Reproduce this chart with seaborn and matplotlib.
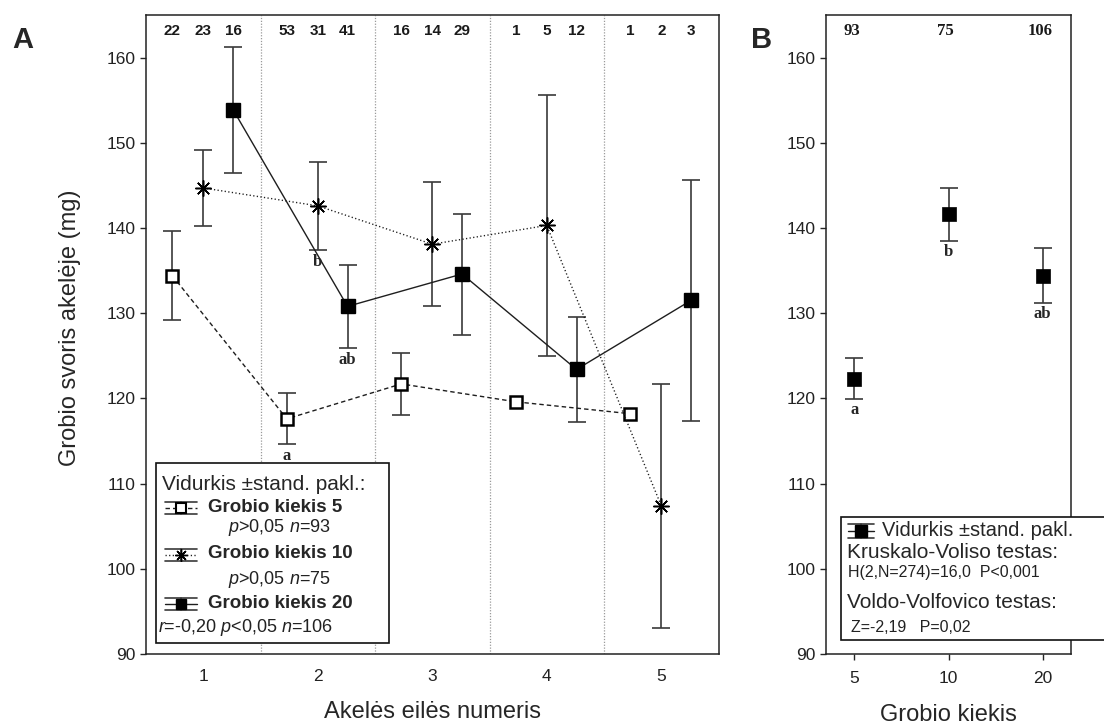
import numpy as np
import pandas as pd
import matplotlib
matplotlib.use("Agg")
import matplotlib.pyplot as plt
import seaborn as sns
from matplotlib.lines import Line2D
from matplotlib.patches import Rectangle
from matplotlib.transforms import Affine2D, blended_transform_factory

# ---------------- data ----------------
# Panel A: egg position in the clutch, three prey-supply groups
positions = [1, 2, 3, 4, 5]
prey_levels = ["5", "10", "20"]

mean_prey5 = [134.4, 117.6, 121.7, 119.6, 118.2]
sd_prey5 = [5.2, 3.0, 3.6, 0.0, 0.0]
n_prey5 = [22, 53, 16, 1, 1]

mean_prey10 = [144.7, 142.6, 138.1, 140.3, 107.4]
sd_prey10 = [4.5, 5.2, 7.3, 15.3, 14.3]
n_prey10 = [23, 31, 14, 5, 2]

mean_prey20 = [153.9, 130.8, 134.6, 123.4, 131.5]
sd_prey20 = [7.4, 4.9, 7.1, 6.2, 14.1]
n_prey20 = [16, 41, 29, 12, 3]

# significance letters in panel A (level, position, letter)
letters_a = [("5", 2, "a"), ("10", 2, "b"), ("20", 2, "ab")]

# Panel B: pooled by prey supply
b_levels = ["5", "10", "20"]
b_mean = [122.3, 141.6, 134.4]
b_sd = [2.4, 3.1, 3.2]
b_n = [93, 75, 106]
b_letters = ["a", "b", "ab"]

y_ticks = [90, 100, 110, 120, 130, 140, 150, 160]

# ---------------- style ----------------
sns.set_style("ticks")
plt.rcParams["font.family"] = ["Liberation Sans", "DejaVu Sans"]
plt.rcParams["mathtext.fontset"] = "custom"
plt.rcParams["mathtext.rm"] = "Liberation Sans"
plt.rcParams["mathtext.it"] = "Liberation Sans:italic"
plt.rcParams["axes.edgecolor"] = "#222222"
plt.rcParams["axes.linewidth"] = 1.1

offset = {"5": -0.27, "10": 0.0, "20": 0.26}
line_ls = {"5": (0, (3.2, 2.2)), "10": (0, (0.9, 1.7)), "20": "-"}
marker = {"5": "s", "10": (8, 2, 0), "20": "s"}
mfc = {"5": "white", "10": "black", "20": "black"}
msize = {"5": 8.8, "10": 11.5, "20": 10.0}
mew = {"5": 1.8, "10": 1.1, "20": 1.0}

rows = []
for lvl, means, sds, ns in zip(prey_levels,
                              [mean_prey5, mean_prey10, mean_prey20],
                              [sd_prey5, sd_prey10, sd_prey20],
                              [n_prey5, n_prey10, n_prey20]):
    for p, m, s, n in zip(positions, means, sds, ns):
        rows.append(dict(level=lvl, position=p, mean=m, sd=s, n=n))
dfA = pd.DataFrame(rows)
dfA["x"] = dfA["position"] + dfA["level"].map(offset)

dfB = pd.DataFrame(dict(level=b_levels, mean=b_mean, sd=b_sd, n=b_n,
                        letter=b_letters))
dfB["x"] = np.arange(len(dfB))

# ---------------- figure ----------------
W, H = 1104, 727
fig = plt.figure(figsize=(W / 100, H / 100), dpi=100)
pix = Affine2D().scale(1 / W, -1 / H).translate(0, 1) + fig.transFigure

top, bottom = 15, 654
axA = fig.add_axes([146 / W, 1 - bottom / H, (718.5 - 146) / W, (bottom - top) / H])
axB = fig.add_axes([826 / W, 1 - bottom / H, (1071 - 826) / W, (bottom - top) / H])

line_col = "#1e1e1e"
err_col = "#3a3a3a"

# ---- panel A ----
for p in [1.5, 2.5, 3.5, 4.5]:
    axA.axvline(p, color="#9a9a9a", lw=0.9, ls=(0, (1, 1.3)), zorder=1)

for lvl in prey_levels:
    sub = dfA[dfA["level"] == lvl]
    bars = sub[sub["sd"] > 0]
    axA.errorbar(bars["x"], bars["mean"], yerr=bars["sd"], fmt="none",
                 ecolor=err_col, elinewidth=1.2, capsize=6.2, capthick=1.2,
                 zorder=2)
    sns.lineplot(data=sub, x="x", y="mean", ax=axA, estimator=None, sort=False,
                 color=line_col, lw=1.0, linestyle=line_ls[lvl],
                 marker=marker[lvl], ms=msize[lvl], mfc=mfc[lvl], mec="black",
                 mew=mew[lvl], zorder=3)

# sample sizes along the top
top_tr = blended_transform_factory(axA.transData, axA.transAxes)
for _, r in dfA.iterrows():
    axA.text(r["x"], 0.975, f"{int(r['n'])}", transform=top_tr, ha="center",
             va="center", fontsize=11, fontweight="bold", color="#1a1a1a")

for lvl, pos, let in letters_a:
    r = dfA[(dfA["level"] == lvl) & (dfA["position"] == pos)].iloc[0]
    axA.annotate(let, (r["x"], r["mean"] - r["sd"]), xytext=(0, -8.5),
                 textcoords="offset points", ha="center", va="center",
                 fontsize=12, fontweight="bold", family="Liberation Serif")

axA.set_xlim(0.5, 5.5)
axA.set_ylim(90, 165)
axA.set_xticks(positions)
axA.set_yticks(y_ticks)
axA.tick_params(axis="x", length=0, pad=11, labelsize=12.5, labelcolor="#222")
axA.tick_params(axis="y", length=4.5, width=1, pad=3, labelsize=12.5,
                labelcolor="#222")
axA.set_xlabel("Akelės eilės numeris", fontsize=17, va="center")
axA.xaxis.set_label_coords(0.5, (bottom - 712) / (bottom - top))
axA.set_ylabel("Grobio svoris akelėje (mg)", fontsize=17, va="center")
axA.yaxis.set_label_coords((70 - 146) / 572.5, 0.51)

# ---- panel B ----
axB.errorbar(dfB["x"], dfB["mean"], yerr=dfB["sd"], fmt="none", ecolor=err_col,
             elinewidth=1.2, capsize=6.2, capthick=1.2, zorder=2)
sns.scatterplot(data=dfB, x="x", y="mean", ax=axB, marker="s", s=95,
                color="black", edgecolor="black", linewidth=0.5, zorder=3)
top_trB = blended_transform_factory(axB.transData, axB.transAxes)
for _, r in dfB.iterrows():
    axB.text(r["x"] - 0.03, 0.975, f"{int(r['n'])}", transform=top_trB,
             ha="center", va="center", fontsize=12, fontweight="bold",
             family="Liberation Serif", color="#1a1a1a")
    axB.annotate(r["letter"], (r["x"], r["mean"] - r["sd"]), xytext=(0, -8),
                 textcoords="offset points", ha="center", va="center",
                 fontsize=12, fontweight="bold", family="Liberation Serif")

axB.set_xlim(-0.3, 2.3)
axB.set_ylim(90, 165)
axB.set_xticks(dfB["x"])
axB.set_xticklabels(b_levels)
axB.set_yticks(y_ticks)
axB.tick_params(axis="x", length=4, width=1, pad=8, labelsize=12.5,
                labelcolor="#222")
axB.tick_params(axis="y", length=4.5, width=1, pad=3, labelsize=12.5,
                labelcolor="#222")
axB.set_xlabel("Grobio kiekis", fontsize=17, va="center")
axB.xaxis.set_label_coords(0.5, (bottom - 715) / (bottom - top))
axB.set_ylabel("")

# panel letters
fig.text(23, 40, "A", transform=pix, fontsize=21, fontweight="bold",
         ha="center", va="center")
fig.text(762, 40, "B", transform=pix, fontsize=21, fontweight="bold",
         ha="center", va="center")


# ---------------- legends ----------------
def key(cx, cy, half, cap, ls, mk, face, ms, mw):
    fig.add_artist(Line2D([cx - half, cx + half], [cy, cy], transform=pix,
                          ls=ls, color=line_col, lw=1.0, zorder=6))
    for dy in (-cap, cap):
        fig.add_artist(Line2D([cx - half, cx + half], [cy + dy] * 2,
                              transform=pix, color=err_col, lw=1.2, zorder=6))
    fig.add_artist(Line2D([cx, cx], [cy - cap, cy + cap], transform=pix,
                          color=err_col, lw=1.2, zorder=6))
    fig.add_artist(Line2D([cx], [cy], transform=pix, marker=mk, ms=ms,
                          mfc=face, mec="black", mew=mw, ls="none", zorder=7))


fig.add_artist(Rectangle((156, 463), 233, 180, transform=pix, facecolor="white",
                         edgecolor="#111", lw=1.2, zorder=5))
fig.text(162, 484, "Vidurkis ±stand. pakl.:", transform=pix, fontsize=15,
         va="center", ha="left", zorder=8)
entries = [("5", 508, "$p$>0,05 $n$=93", 228, 528),
           ("10", 555, "$p$>0,05 $n$=75", 228, 580),
           ("20", 604, "$r$=-0,20 $p$<0,05 $n$=106", 158, 628)]
for lvl, yy, stat, sx, sy in entries:
    key(181, yy, 16, 6, line_ls[lvl], marker[lvl], mfc[lvl],
        {"5": 6.5, "10": 9, "20": 7.5}[lvl], {"5": 1.5, "10": 1.0, "20": 1.0}[lvl])
    fig.text(208, yy - 1, f"Grobio kiekis {lvl}", transform=pix, fontsize=13.5,
             fontweight="bold", va="center", ha="left", zorder=8)
    fig.text(sx, sy, stat, transform=pix, fontsize=13, va="center", ha="left",
             zorder=8, color="#222")

fig.add_artist(Rectangle((841, 517), 300, 123, transform=pix, facecolor="white",
                         edgecolor="#111", lw=1.2, zorder=5))
key(861, 531, 13, 7, "-", "s", "black", 8.5, 1.0)
fig.text(882, 531, "Vidurkis ±stand. pakl.", transform=pix, fontsize=14.5,
         va="center", ha="left", zorder=8)
fig.text(847, 553, "Kruskalo-Voliso testas:", transform=pix, fontsize=15,
         va="center", ha="left", zorder=8)
fig.text(848, 573, "H(2,N=274)=16,0  P<0,001", transform=pix, fontsize=11.5,
         va="center", ha="left", zorder=8, color="#222")
fig.text(847, 602, "Voldo-Volfovico testas:", transform=pix, fontsize=15,
         va="center", ha="left", zorder=8)
fig.text(851, 627, "Z=-2,19   P=0,02", transform=pix, fontsize=11.5,
         va="center", ha="left", zorder=8, color="#222")

fig.savefig("out.png", dpi=100, facecolor="white")
